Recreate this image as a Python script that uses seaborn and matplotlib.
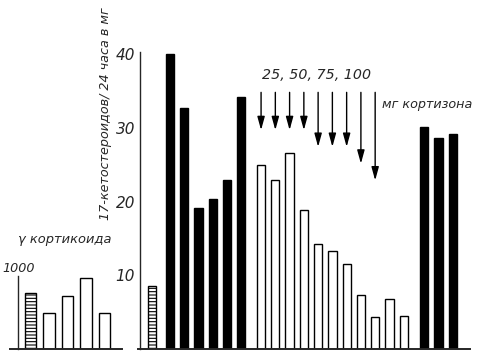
import pandas as pd
import matplotlib
matplotlib.use("Agg")
import matplotlib.pyplot as plt
import seaborn as sns

# inset: corticoid excretion (gamma)
cort_kind = ["hatched", "white", "white", "white", "white"]
cort_vals = [770, 490, 730, 970, 490]

# main chart: 17-ketosteroids, mg / 24 h
pre_vals = [8.5]
acth_vals = [40.0, 32.7, 19.2, 20.4, 22.9, 34.2]
cortisone_vals = [24.9, 22.9, 26.6, 18.9, 14.2, 13.3, 11.5, 7.3, 4.4, 6.8, 4.5]
after_vals = [30.1, 28.6, 29.2]
doses = [25, 25, 25, 25, 50, 50, 50, 75, 100]
y_ticks = [10, 20, 30, 40]

sns.set_style("white")
plt.rcParams["font.family"] = ["DejaVu Sans"]
plt.rcParams["font.style"] = "italic"
plt.rcParams["hatch.linewidth"] = 0.8

# group layout (slot units, gaps between groups)
groups = [("hatched", pre_vals, 0.0),
          ("black", acth_vals, 1.26),
          ("white", cortisone_vals, 7.65),
          ("black", after_vals, 19.09)]
rows = []
for kind, vals, start in groups:
    for i, v in enumerate(vals):
        rows.append({"pos": start + i, "val": v, "kind": kind})
df = pd.DataFrame(rows)

df_c = pd.DataFrame({"pos": range(len(cort_vals)), "val": cort_vals, "kind": cort_kind})

pal = {"black": "black", "white": "white", "hatched": "white"}

fig = plt.figure(figsize=(4.85, 3.57), dpi=100)
W, H = 485, 357

# main axes
ax = fig.add_axes([138 / W, (H - 349) / H, (470 - 138) / W, (349 - 52) / H])
sns.barplot(data=df, x="pos", y="val", hue="kind", palette=pal, native_scale=True,
            width=0.58, edgecolor="black", linewidth=1.0, dodge=False,
            legend=False, ax=ax)
hatched_pos = df.loc[df.kind == "hatched", "pos"].tolist()
for p in ax.patches:
    c = p.get_x() + p.get_width() / 2
    if any(abs(c - h) < 0.3 for h in hatched_pos):
        p.set_hatch("-----")
ax.set_xlim(-0.98, 22.3)
ax.set_ylim(0, 40.3)
ax.spines["left"].set_position(("data", -0.84))
ax.spines[["top", "right"]].set_visible(False)
ax.spines["left"].set_linewidth(1.0)
ax.spines["bottom"].set_linewidth(1.4)
ax.set_xticks([])
ax.set_yticks(y_ticks)
ax.tick_params(axis="y", direction="inout", length=5, width=1, labelsize=11, pad=1)
ax.set_xlabel("")
ax.set_ylabel("")

# cortisone dose arrows
white_pos = df.loc[df.kind == "white", "pos"].tolist()
for p, d in zip(white_pos, doses):
    ax.annotate("", xy=(p, 35.2 - (3.6 + 0.091 * d)), xytext=(p, 35.2),
                arrowprops=dict(arrowstyle="-|>,head_width=0.22,head_length=0.8",
                                color="black", lw=1.0, mutation_scale=10),
                annotation_clip=False)

# inset axes
ax2 = fig.add_axes([10 / W, (H - 349) / H, (122 - 10) / W, (349 - 276) / H])
sns.barplot(data=df_c, x="pos", y="val", hue="kind", palette=pal, native_scale=True,
            width=0.6, edgecolor="black", linewidth=1.0, dodge=False,
            legend=False, ax=ax2)
for p in ax2.patches:
    c = p.get_x() + p.get_width() / 2
    if abs(c - 0) < 0.3:
        p.set_hatch("-----")
ax2.set_xlim(-1.11, 4.95)
ax2.set_ylim(0, 1000)
ax2.spines["left"].set_position(("data", -0.68))
ax2.spines[["top", "right"]].set_visible(False)
ax2.spines["left"].set_linewidth(1.0)
ax2.spines["bottom"].set_linewidth(1.4)
ax2.set_xticks([])
ax2.set_yticks([])
ax2.set_xlabel("")
ax2.set_ylabel("")
ax2.patch.set_alpha(0)

# texts
fig.text(106 / W, 1 - 114 / H, "17-кетостероидов/ 24 часа в мг", rotation=90,
         ha="center", va="center", fontsize=9.2)
fig.text(18 / W, 1 - 240 / H, "γ кортикоида", ha="left", va="center", fontsize=9.4)
fig.text(2 / W, 1 - 268 / H, "1000", ha="left", va="center", fontsize=9.2)
fig.text(262 / W, 1 - 75 / H, "25, 50, 75, 100", ha="left", va="center", fontsize=10.3)
fig.text(382 / W, 1 - 104 / H, "мг кортизона", ha="left", va="center", fontsize=9.2)

fig.savefig("out.png", dpi=100)
